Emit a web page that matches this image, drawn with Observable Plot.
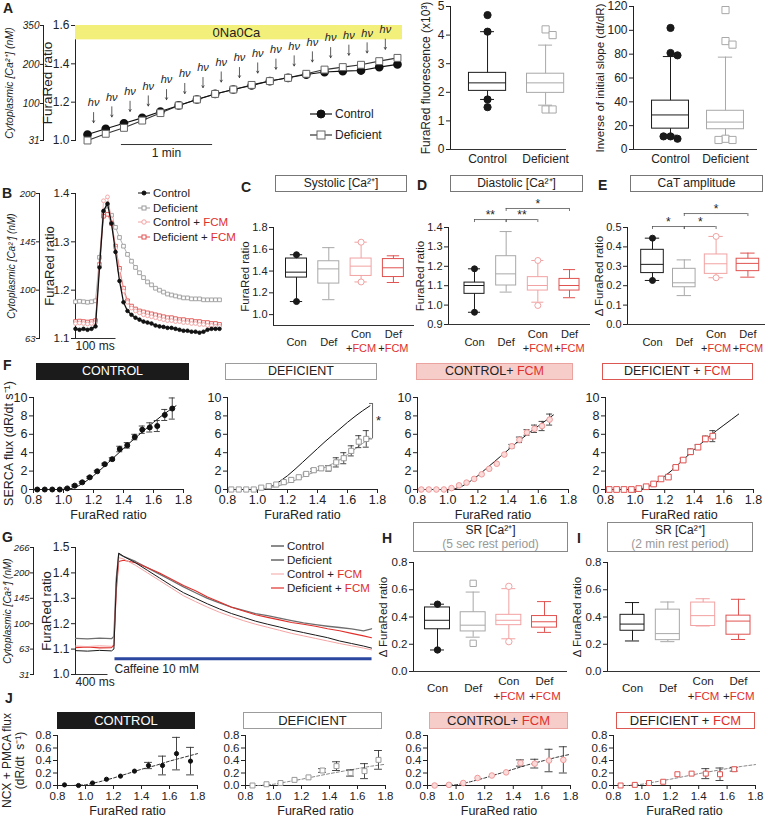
<!DOCTYPE html>
<html>
<head>
<meta charset="utf-8">
<script src="https://cdn.jsdelivr.net/npm/d3@7"></script>
<script src="https://cdn.jsdelivr.net/npm/@observablehq/plot@0.6"></script>
<style>
  html, body { margin: 0; padding: 0; background: #fff; }
  #root { position: relative; width: 767px; height: 835px; overflow: hidden; font-family: "Liberation Sans", Arial, Helvetica, sans-serif; color: #222; }
  .letter { position: absolute; font-weight: bold; font-size: 14px; line-height: 14px; }
  .hdr { position: absolute; box-sizing: border-box; text-align: center; white-space: nowrap; }
  .red { color: #e0302c; }
  .gry { color: #999; }
  .leg { position: absolute; display: flex; align-items: center; white-space: nowrap; }
  .leg svg { display: block; margin-right: 3px; overflow: visible; }
</style>
</head>
<body>
<div id="root"></div>
<script>
// ======================= DATA =======================
// ---- Panel A : time course during 0Na0Ca (time in s) ----
const aTime = [0,12,24,36,48,60,72,84,96,108,120,132,144,156,168,180,192,204];
const aControl = [1.031,1.061,1.090,1.118,1.151,1.183,1.214,1.243,1.266,1.287,1.310,1.327,1.344,1.357,1.362,1.365,1.383,1.397];
const aControlErr = [0,0,0,0,0,0,0,0,0.004,0,0,0.004,0.006,0.008,0.010,0.012,0.010,0.012];
const aDeficient = [1.000,1.035,1.066,1.104,1.143,1.183,1.214,1.243,1.266,1.290,1.310,1.327,1.348,1.370,1.383,1.395,1.414,1.431];
const aDeficientErr = [0,0,0,0,0,0,0,0,0,0,0,0,0,0,0.005,0.005,0.006,0.008];
const aBand = [1.525, 1.6];
const aMinuteBar = [22, 82];
const aCaTicks = [31, 100, 200, 350];
const aCaAt = [1.0, 1.193, 1.397, 1.6];
// ---- Panel A : boxplots ----
const groupsA = ["Control", "Deficient"];
const fluoQ1 = [2.05, 1.98], fluoMed = [2.33, 2.33], fluoQ3 = [2.68, 2.65], fluoLo = [1.75, 1.55], fluoHi = [4.12, 3.65];
const fluoOut = [[0,4.70],[0,4.12],[0,1.75],[0,1.48],[1,4.20],[1,4.00],[1,1.40],[1,1.40]];
const slopeQ1 = [17.5, 17], slopeMed = [29, 23], slopeQ3 = [41, 32.5], slopeLo = [12, 10], slopeHi = [78, 77.5];
const slopeOut = [[0,102],[0,81],[0,79],[0,11],[0,9],[0,11],[1,117],[1,91],[1,88],[1,9],[1,8],[1,8]];
// ---- Panel B : Ca transients (time in ms) ----
const bTime = [0,10,20,30,40,50,60,70,80,90,100,110,120,130,140,150,160,170,180,190,200,210,220,230,240,250,260,270,280,290,300,310,320,330,340,350,360];
const bControl = [1.120,1.118,1.120,1.118,1.120,1.125,1.247,1.364,1.379,1.338,1.279,1.219,1.175,1.157,1.149,1.143,1.139,1.135,1.133,1.131,1.127,1.125,1.124,1.122,1.122,1.120,1.118,1.116,1.116,1.114,1.114,1.112,1.114,1.118,1.120,1.120,1.120];
const bDeficient = [1.176,1.177,1.176,1.175,1.176,1.178,1.268,1.360,1.374,1.355,1.330,1.309,1.291,1.274,1.260,1.247,1.236,1.226,1.217,1.211,1.204,1.200,1.196,1.192,1.190,1.188,1.186,1.184,1.184,1.182,1.182,1.182,1.180,1.180,1.180,1.180,1.180];
const bConFCM = [1.131,1.132,1.131,1.130,1.131,1.133,1.253,1.385,1.393,1.347,1.287,1.240,1.198,1.175,1.163,1.157,1.153,1.149,1.147,1.145,1.143,1.141,1.139,1.137,1.137,1.135,1.135,1.133,1.133,1.131,1.131,1.129,1.129,1.127,1.127,1.125,1.125];
const bDefFCM = [1.135,1.136,1.135,1.134,1.135,1.137,1.253,1.353,1.357,1.338,1.291,1.245,1.204,1.178,1.167,1.161,1.157,1.155,1.153,1.151,1.149,1.147,1.145,1.143,1.143,1.141,1.139,1.139,1.137,1.137,1.135,1.135,1.133,1.133,1.131,1.131,1.129];
const bCaTicks = [63, 100, 145, 200];
const bCaAt = [1.1, 1.2, 1.3, 1.4];
// ---- Panels C, D, E, H, I : boxplots ----
const cats4 = ["Con", "Def", "Con +FCM", "Def +FCM"];
const sysQ1 = [1.34,1.285,1.355,1.345], sysMed = [1.39,1.42,1.445,1.43], sysQ3 = [1.515,1.49,1.515,1.51], sysLo = [1.12,1.137,1.30,1.295], sysHi = [1.55,1.615,1.665,1.54];
const sysOut = [[0,1.55],[0,1.12],[2,1.665],[2,1.30]];
const diaQ1 = [1.058,1.101,1.075,1.075], diaMed = [1.101,1.161,1.101,1.101], diaQ3 = [1.116,1.252,1.144,1.135], diaLo = [0.963,1.067,1.015,1.038], diaHi = [1.187,1.379,1.23,1.183];
const diaOut = [[0,1.187],[0,0.963],[2,1.23],[2,0.998]];
const diaSig = [[0,1,1.441,"**"],[1,2,1.441,"**"],[1,3,1.498,"*"]];
const ampQ1 = [0.265,0.192,0.261,0.275], ampMed = [0.31,0.215,0.313,0.315], ampQ3 = [0.385,0.287,0.361,0.339], ampLo = [0.227,0.149,0.241,0.244], ampHi = [0.445,0.333,0.454,0.368];
const ampOut = [[0,0.445],[0,0.227],[2,0.454],[2,0.241]];
const ampSig = [[0,1,0.505,"*"],[1,2,0.505,"*"],[1,3,0.572,"*"]];
const sr5Q1 = [0.31,0.294,0.34,0.322], sr5Med = [0.376,0.34,0.376,0.365], sr5Q3 = [0.47,0.435,0.416,0.407], sr5Lo = [0.158,0.252,0.24,0.287], sr5Hi = [0.494,0.583,0.608,0.513];
const sr5Out = [[0,0.494],[0,0.158],[1,0.647],[1,0.207],[2,0.625],[2,0.219]];
const sr2Q1 = [0.299,0.23,0.334,0.27], sr2Med = [0.348,0.278,0.41,0.37], sr2Q3 = [0.416,0.454,0.506,0.41], sr2Lo = [0.224,0.219,0.334,0.235], sr2Hi = [0.506,0.51,0.534,0.53];
const sr2Out = [];
// ---- Panel F : SERCA flux vs FuraRed ratio ----
const fX = [0.825,0.875,0.925,0.975,1.025,1.075,1.125,1.175,1.225,1.275,1.325,1.375,1.425,1.475,1.525,1.575,1.625,1.675,1.725];
const fControl = [0,0,0,0,0.12,0.42,0.78,1.32,1.98,2.75,3.3,4.4,4.8,5.7,6.5,6.75,6.9,8.1,8.8];
const fControlErr = [0,0,0,0,0.05,0.08,0.1,0.1,0.1,0.1,0.15,0.3,0.3,0.3,0.4,0.5,0.6,0.6,1.15];
const fDeficient = [0,0,0,0,0.2,0.36,0.54,0.8,1.04,1.33,1.69,2.1,2.3,2.3,2.95,3.4,4.2,5.2,5.5];
const fDeficientErr = [0,0,0,0,0,0,0,0,0,0,0.1,0.15,0.2,0.3,0.5,0.6,0.55,0.65,0.9];
const fConFCM = [0,0,0,0,0.15,0.45,0.75,1.15,1.65,2.25,2.8,3.8,4.7,5.4,6.2,6.6,6.9,7.6];
const fConFCMErr = [0,0,0,0,0,0,0,0,0,0,0,0,0.2,0.3,0.3,0.4,0.5,0.6];
const fDefFCM = [0,0,0,0,0.1,0.3,0.6,1.15,1.35,2.4,3.2,4.1,4.6,5.5,5.8];
const fDefFCMErr = [0,0,0,0,0,0,0,0,0.1,0.15,0.2,0.3,0.25,0.3,0.6];
const fFitX = [1.0,1.05,1.1,1.15,1.2,1.25,1.3,1.35,1.4,1.45,1.5,1.55,1.6,1.65,1.7,1.75];
const fControlFit = [0,0.1,0.4,0.9,1.5,2.2,2.95,3.7,4.45,5.2,5.9,6.6,7.3,7.95,8.55,9.1];
const fDeficientFit = [0,0.1,0.25,0.45,0.7,1.0,1.35,1.7,2.05,2.4,2.8,3.25,3.8,4.4,5.0,5.6];
const fConFCMFit = [0,0.1,0.4,0.9,1.5,2.2,2.9,3.6,4.3,5.0,5.65,6.3,6.9,7.5,8.1];
const fDefFCMFit = [0,0.12,0.4,0.85,1.45,2.1,2.85,3.6,4.35,5.05,5.75,6.4,7.0,7.6,8.2];
const fSig = [1.767, 5.5, 9.35];
// ---- Panel G : caffeine-induced transients (time in ms) ----
const gTime = [0,150,300,450,480,510,540,600,750,900,1050,1200,1350,1500,1650,1800,1950,2100,2250,2400,2550,2700,2850,3000,3150,3300,3450,3600,3700];
const gControl = [1.142,1.140,1.143,1.141,1.150,1.380,1.475,1.465,1.445,1.420,1.395,1.370,1.345,1.322,1.300,1.282,1.265,1.252,1.240,1.232,1.222,1.212,1.203,1.196,1.190,1.185,1.180,1.172,1.180];
const gDeficient = [1.094,1.092,1.095,1.093,1.100,1.360,1.478,1.465,1.440,1.410,1.380,1.350,1.322,1.300,1.278,1.258,1.240,1.225,1.210,1.198,1.187,1.175,1.165,1.155,1.145,1.132,1.122,1.112,1.104];
const gConFCM = [1.112,1.110,1.113,1.111,1.120,1.350,1.460,1.455,1.430,1.400,1.370,1.340,1.310,1.287,1.265,1.245,1.228,1.212,1.198,1.186,1.174,1.162,1.152,1.142,1.132,1.122,1.113,1.104,1.097];
const gDefFCM = [1.106,1.108,1.105,1.106,1.115,1.330,1.445,1.450,1.440,1.420,1.400,1.375,1.350,1.330,1.305,1.285,1.265,1.250,1.235,1.225,1.215,1.205,1.198,1.190,1.180,1.172,1.162,1.152,1.145];
const gCaffeine = [487, 3700, 1.0625];
const gCaTicks = [31, 63, 100, 145, 200, 266];
const gCaAt = [1.0, 1.1, 1.2, 1.3, 1.4, 1.5];
// ---- Panel J : NCX + PMCA flux ----
const jX = [0.85,0.95,1.05,1.15,1.25,1.35,1.45,1.55,1.65,1.75];
const jControl = [0.01,0.0,0.04,0.10,0.15,0.23,0.32,0.32,0.51,0.39];
const jControlErr = [0,0,0,0,0,0,0.05,0.15,0.26,0.22];
const jDeficient = [0.0,0.02,0.04,0.09,0.13,0.24,0.31,0.20,0.23,0.41];
const jDeficientErr = [0,0,0,0,0,0.03,0.07,0.05,0.12,0.15];
const jConFCM = [0.0,0.01,0.04,0.12,0.16,0.21,0.36,0.35,0.40,0.41];
const jConFCMErr = [0,0,0,0,0,0,0.05,0.07,0.18,0.21];
const jDefFCM = [0.0,0.01,0.04,0.06,0.18,0.19,0.19,0.18,0.26];
const jDefFCMErr = [0,0,0,0,0,0,0.08,0.1,0.03];
const jFitX = [0.85,0.9,1.0,1.1,1.2,1.3,1.4,1.5,1.6,1.7,1.8];
const jControlFit = [0,0,0.01,0.06,0.12,0.19,0.26,0.32,0.39,0.45,0.51];
const jDeficientFit = [0,0,0.02,0.06,0.10,0.145,0.19,0.23,0.27,0.31,0.34];
const jConFCMFit = [0,0,0.01,0.06,0.12,0.19,0.26,0.33,0.39,0.45,0.50];
const jDefFCMFit = [0,0,0.02,0.06,0.10,0.145,0.19,0.23,0.27,0.305,0.335];

// ======================= HELPERS =======================
const FONT = '"Liberation Sans", Arial, Helvetica, sans-serif';
const RED = "#e0302c";
const COL4 = ["#1a1a1a", "#a8a8a8", "#f2a2a2", "#e05250"];
const SYM4 = ["filled", "square", "circle", "square"];
const root = document.getElementById("root");

function put(el, left, top) {
  el.style.position = "absolute";
  el.style.left = left + "px";
  el.style.top = top + "px";
  root.appendChild(el);
  return el;
}
function mkPlot(g, opts) {
  const {L, R, T, B, ml = 40, mr = 4, mt = 4, mb = 20, fs = 11, italic = false} = g;
  const svg = Plot.plot({
    width: R - L + ml + mr, height: B - T + mt + mb,
    marginLeft: ml, marginRight: mr, marginTop: mt, marginBottom: mb,
    style: {background: "transparent", overflow: "visible", fontFamily: FONT, fontSize: fs + "px", color: "#222", fontStyle: italic ? "italic" : "normal"},
    ...opts
  });
  return put(svg, L - ml, T - mt);
}
function yAx(domain, ticks, fmt, extra = {}) {
  return {domain, ticks, tickFormat: fmt, tickSize: 4, tickPadding: 2, line: true, label: null, ...extra};
}
function ylabel(text, dx, fs, extra = {}) {
  return Plot.text([text], {frameAnchor: "left", rotate: -90, dx, text: d => d, fontSize: fs, textAnchor: "middle", lineAnchor: "middle", ...extra});
}
function letter(ch, left, top) {
  const d = document.createElement("div");
  d.className = "letter"; d.textContent = ch;
  put(d, left, top);
}
function hdr(left, top, w, h, html, o = {}) {
  const d = document.createElement("div");
  d.className = "hdr";
  Object.assign(d.style, {width: w + "px", height: h + "px", background: o.bg || "#fff", border: "1px solid " + (o.border || "#888"),
    color: o.color || "#222", fontSize: (o.fs || 12) + "px", lineHeight: (o.lh || (h - 2)) + "px"});
  d.innerHTML = html;
  put(d, left, top);
}
function glyph(w, line, marker) {
  let m = "";
  const cx = w / 2, cy = 7;
  if (marker && marker.type === "circle") m = `<circle cx="${cx}" cy="${cy}" r="${marker.r}" fill="${marker.fill}" stroke="${marker.stroke}" stroke-width="1"/>`;
  if (marker && marker.type === "square") m = `<rect x="${cx - marker.s / 2}" y="${cy - marker.s / 2}" width="${marker.s}" height="${marker.s}" fill="${marker.fill}" stroke="${marker.stroke}" stroke-width="1"/>`;
  return `<svg width="${w}" height="14"><line x1="0" y1="7" x2="${w}" y2="7" stroke="${line.stroke}" stroke-width="${line.w}"/>${m}</svg>`;
}
function legendRow(left, cy, g, html, fs) {
  const d = document.createElement("div");
  d.className = "leg";
  Object.assign(d.style, {height: "14px", fontSize: fs + "px"});
  d.innerHTML = g + `<span>${html}</span>`;
  put(d, left, cy - 7);
}
function spreadOut(out, pxu, step) {
  const placed = [];
  for (const [c, v] of out) {
    const n = placed.filter(p => p.c === c && Math.abs(p.v - v) * pxu < 6).length;
    const off = n === 0 ? 0 : (n % 2 ? 1 : -1) * Math.ceil(n / 2) * 7;
    placed.push({c, v, x: c + off / step});
  }
  return placed;
}
function boxPanel(g, st, o) {
  const idx = d3.range(st.q1.length);
  const col = i => o.colors[i];
  const marks = [
    Plot.ruleY([o.y[0]], {stroke: "#333"}),
    Plot.ruleX(idx, {x: i => i, y1: i => st.lo[i], y2: i => st.hi[i], stroke: col}),
    Plot.ruleY(idx, {y: i => st.hi[i], x1: i => i - o.cap, x2: i => i + o.cap, stroke: col}),
    Plot.ruleY(idx, {y: i => st.lo[i], x1: i => i - o.cap, x2: i => i + o.cap, stroke: col}),
    Plot.rect(idx, {x1: i => i - o.hw, x2: i => i + o.hw, y1: i => st.q1[i], y2: i => st.q3[i], fill: "white", stroke: col}),
    Plot.ruleY(idx, {y: i => st.med[i], x1: i => i - o.hw, x2: i => i + o.hw, stroke: col})
  ];
  const outs = spreadOut(st.out, o.pxu, o.step);
  for (const kind of ["filled", "circle", "square"]) {
    const list = outs.filter(p => o.sym[p.c] === kind);
    if (!list.length) continue;
    marks.push(Plot.dot(list, {x: "x", y: "v", r: kind === "square" ? o.r * 1.12 : o.r,
      symbol: kind === "square" ? "square" : "circle",
      fill: kind === "filled" ? (p => o.colors[p.c]) : "white", stroke: p => o.colors[p.c], strokeWidth: 1}));
  }
  if (o.label) marks.push(ylabel(o.label, o.labelDx, o.labelFs));
  if (o.extra) marks.push(...o.extra);
  return mkPlot(g, {color: {type: "identity"}, x: {domain: o.x, axis: null}, y: yAx(o.y, o.ticks, o.fmt), marks});
}
function catLabels4(y0, d1, d2, d3, fs) {
  const top = cats4.map(c => c.split(" ")[0]);
  return [
    Plot.text([0, 1], {x: i => i, y: () => y0, dy: d1, text: i => top[i], fontSize: fs}),
    Plot.text([2, 3], {x: i => i, y: () => y0, dy: d2, text: i => top[i], fontSize: fs}),
    Plot.text([2, 3], {x: i => i, y: () => y0, dy: d3, text: () => "+", textAnchor: "end", dx: -8.7, fontSize: fs}),
    Plot.text([2, 3], {x: i => i, y: () => y0, dy: d3, text: () => "FCM", textAnchor: "start", dx: -8.7, fontSize: fs, fill: RED})
  ];
}
function sigMarks(list, pxu) {
  const t = 3 / pxu;
  return [
    Plot.ruleY(list, {y: d => d[2], x1: d => d[0], x2: d => d[1], stroke: "#555", strokeWidth: 0.8}),
    Plot.ruleX(list, {x: d => d[0], y1: d => d[2], y2: d => d[2] - t, stroke: "#555", strokeWidth: 0.8}),
    Plot.ruleX(list, {x: d => d[1], y1: d => d[2], y2: d => d[2] - t, stroke: "#555", strokeWidth: 0.8}),
    Plot.text(list, {x: d => (d[0] + d[1]) / 2, y: d => d[2], dy: -4, text: d => d[3], fontSize: 12})
  ];
}
function fluxPlot(g, o) {
  const marks = [];
  for (const f of o.fits) {
    const pts = f.x.map((x, i) => ({x, y: f.y[i]}));
    marks.push(Plot.line(pts, {x: "x", y: "y", stroke: f.stroke, strokeWidth: f.w || 1, strokeDasharray: f.dash}));
  }
  const pts = o.xs.map((x, i) => ({x, y: o.ys[i], e: o.es[i]}));
  const eb = pts.filter(p => p.e > 0);
  marks.push(
    Plot.ruleX(eb, {x: "x", y1: p => p.y - p.e, y2: p => p.y + p.e, stroke: "#333", strokeWidth: 0.9}),
    Plot.ruleY(eb, {y: p => p.y + p.e, x1: p => p.x - o.cw, x2: p => p.x + o.cw, stroke: "#333", strokeWidth: 0.9}),
    Plot.ruleY(eb, {y: p => p.y - p.e, x1: p => p.x - o.cw, x2: p => p.x + o.cw, stroke: "#333", strokeWidth: 0.9}),
    Plot.dot(pts, {x: "x", y: "y", r: o.m.r, symbol: o.m.symbol, fill: o.m.fill, stroke: o.m.stroke, strokeWidth: 1}),
    Plot.text(["FuraRed ratio"], {frameAnchor: "bottom", dy: o.xlDy, text: d => d, fontSize: o.xlFs, lineAnchor: "middle"})
  );
  if (o.extra) marks.push(...o.extra);
  return mkPlot(g, {
    x: {domain: [0.8, 1.8], ticks: [0.8, 1.0, 1.2, 1.4, 1.6, 1.8], tickFormat: ".1f", tickSize: 4, tickPadding: 2, line: true, label: null},
    y: yAx(o.y, o.ticks, o.fmt), marks
  });
}

// ======================= PANEL A =======================
letter("A", 3, 1);
{
  const idx = d3.range(aTime.length);
  const arrowIdx = d3.range(17);
  const top = arrowIdx.map(i => Math.max(aControl[i], aDeficient[i]));
  const errC = idx.filter(i => aControlErr[i] > 0);
  const errD = idx.filter(i => aDeficientErr[i] > 0);
  mkPlot({L: 75, R: 402, T: 25, B: 140, ml: 40, mr: 2, mt: 6, mb: 22, fs: 12}, {
    x: {domain: [-7.9, 207.3], axis: null},
    y: yAx([1.0, 1.6], [1.0, 1.2, 1.4, 1.6], ".1f"),
    marks: [
      Plot.rect([aBand], {x1: -7.9, x2: 207.3, y1: d => d[0], y2: d => d[1], fill: "#f3ef7b"}),
      Plot.text(["0Na0Ca"], {x: () => 98, y: () => (aBand[0] + aBand[1]) / 2, text: d => d, fontSize: 13}),
      Plot.arrow(arrowIdx, {x1: i => aTime[i] + 4, x2: i => aTime[i] + 4, y1: i => top[i] + 0.115, y2: i => top[i] + 0.062, stroke: "#333", strokeWidth: 0.8, headLength: 4}),
      Plot.text(arrowIdx, {x: i => aTime[i] + 4, y: i => top[i] + 0.165, text: () => "hν", fontStyle: "italic", fontSize: 11}),
      Plot.line(idx, {x: i => aTime[i], y: i => aDeficient[i], stroke: "#333", strokeWidth: 1.1}),
      Plot.line(idx, {x: i => aTime[i], y: i => aControl[i], stroke: "#111", strokeWidth: 1.1}),
      Plot.ruleX(errC, {x: i => aTime[i], y1: i => aControl[i] - aControlErr[i], y2: i => aControl[i] + aControlErr[i], stroke: "#111"}),
      Plot.ruleY(errC, {y: i => aControl[i] - aControlErr[i], x1: i => aTime[i] - 1.5, x2: i => aTime[i] + 1.5, stroke: "#111"}),
      Plot.ruleX(errD, {x: i => aTime[i], y1: i => aDeficient[i] - aDeficientErr[i], y2: i => aDeficient[i] + aDeficientErr[i], stroke: "#555"}),
      Plot.dot(idx, {x: i => aTime[i], y: i => aControl[i], r: 3.6, fill: "#111", stroke: "#111"}),
      Plot.dot(idx, {x: i => aTime[i], y: i => aDeficient[i], r: 3.9, symbol: "square", fill: "white", stroke: "#666", strokeWidth: 1}),
      Plot.link([aMinuteBar], {x1: d => d[0], x2: d => d[1], y1: () => 0.979, y2: () => 0.979, stroke: "#333"}),
      Plot.text(["1 min"], {x: () => (aMinuteBar[0] + aMinuteBar[1]) / 2, y: () => 0.979, dy: 9, text: d => d, fontSize: 12}),
      ylabel("FuraRed ratio", -28, 13.5)
    ]
  });
  mkPlot({L: 43, R: 44, T: 25, B: 140, ml: 34, mr: 0, mt: 6, mb: 6, fs: 10, italic: true}, {
    y: yAx([1.0, 1.6], aCaAt, d => String(aCaTicks[aCaAt.indexOf(d)]), {tickSize: 3, tickPadding: 1}),
    marks: [Plot.ruleY([1.0, 1.6], {strokeOpacity: 0}), ylabel("Cytoplasmic [Ca²⁺] (nM)", -34, 10.5, {fontStyle: "italic"})]
  });
  legendRow(310, 114, glyph(22, {stroke: "#111", w: 1.2}, {type: "circle", r: 4, fill: "#111", stroke: "#111"}), "Control", 12);
  legendRow(310, 135, glyph(22, {stroke: "#333", w: 1.2}, {type: "square", s: 8, fill: "#fff", stroke: "#666"}), "Deficient", 12);
}
// boxplots in A
{
  const colA = ["#1a1a1a", "#a8a8a8"], symA = ["filled", "square"];
  const lab = [Plot.text([0, 1], {x: i => i, y: () => 0, dy: 10, text: i => groupsA[i], fontSize: 12})];
  boxPanel({L: 450, R: 566, T: 6, B: 149, ml: 34, mr: 2, mt: 6, mb: 16, fs: 12},
    {q1: fluoQ1, med: fluoMed, q3: fluoQ3, lo: fluoLo, hi: fluoHi, out: fluoOut},
    {x: [-0.638, 1.36], y: [0, 5], ticks: [0, 1, 2, 3, 4, 5], fmt: "d", hw: 0.32, cap: 0.12, step: 58, pxu: 28.6, r: 3.6,
     colors: colA, sym: symA, label: "FuraRed fluorescence (x10³)", labelDx: -24, labelFs: 12, extra: lab});
  boxPanel({L: 633, R: 757, T: 6, B: 149, ml: 40, mr: 2, mt: 6, mb: 16, fs: 12},
    {q1: slopeQ1, med: slopeMed, q3: slopeQ3, lo: slopeLo, hi: slopeHi, out: slopeOut},
    {x: [-0.673, 1.582], y: [0, 120], ticks: [0, 20, 40, 60, 80, 100, 120], fmt: "d", hw: 0.336, cap: 0.13, step: 55, pxu: 1.19, r: 3.6,
     colors: colA, sym: symA, label: "Inverse of initial slope (dt/dR)", labelDx: -33, labelFs: 11.5, extra: lab});
}

// ======================= PANEL B =======================
letter("B", 2, 186);
{
  const idx = d3.range(bTime.length);
  const series = [
    {v: bDeficient, line: "#9a9a9a", sym: "square", r: 2.1, fill: "white", stroke: "#9a9a9a"},
    {v: bDefFCM, line: "#e05250", sym: "square", r: 2.1, fill: "white", stroke: "#e05250"},
    {v: bConFCM, line: "#f2a2a2", sym: "circle", r: 1.9, fill: "white", stroke: "#f2a2a2"},
    {v: bControl, line: "#111", sym: "circle", r: 1.8, fill: "#111", stroke: "#111"}
  ];
  const marks = [];
  for (const s of series) {
    marks.push(Plot.line(idx, {x: i => bTime[i], y: i => s.v[i], stroke: s.line, strokeWidth: s.line === "#111" ? 1.3 : 0.8}));
    marks.push(Plot.dot(idx, {x: i => bTime[i], y: i => s.v[i], r: s.r, symbol: s.sym, fill: s.fill, stroke: s.stroke, strokeWidth: 0.9}));
  }
  marks.push(
    Plot.link([[0, 100]], {x1: d => d[0], x2: d => d[1], y1: () => 1.1, y2: () => 1.1, stroke: "#333"}),
    Plot.text(["100 ms"], {x: () => 0, y: () => 1.1, dy: 8, textAnchor: "start", text: d => d, fontSize: 12}),
    ylabel("FuraRed ratio", -26, 13)
  );
  mkPlot({L: 75, R: 222, T: 193, B: 338, ml: 40, mr: 2, mt: 4, mb: 14, fs: 11.5}, {
    x: {domain: [0, 367.5], axis: null},
    y: yAx([1.1, 1.4], [1.1, 1.2, 1.3, 1.4], ".1f"),
    marks
  });
  mkPlot({L: 39, R: 40, T: 193, B: 338, ml: 34, mr: 0, mt: 4, mb: 4, fs: 9.5, italic: true}, {
    y: yAx([1.1, 1.4], bCaAt, d => String(bCaTicks[bCaAt.indexOf(d)]), {tickSize: 3, tickPadding: 1}),
    marks: [Plot.ruleY([1.1, 1.4], {strokeOpacity: 0}), ylabel("Cytoplasmic [Ca²⁺] (nM)", -28, 10, {fontStyle: "italic"})]
  });
  legendRow(138, 193, glyph(12, {stroke: "#111", w: 1}, {type: "circle", r: 2, fill: "#111", stroke: "#111"}), "Control", 11.5);
  legendRow(138, 208, glyph(12, {stroke: "#9a9a9a", w: 1}, {type: "square", s: 4, fill: "#fff", stroke: "#9a9a9a"}), "Deficient", 11.5);
  legendRow(138, 222, glyph(12, {stroke: "#f2a2a2", w: 1}, {type: "circle", r: 2.2, fill: "#fff", stroke: "#f2a2a2"}), 'Control + <span class="red">FCM</span>', 11.5);
  legendRow(138, 237, glyph(12, {stroke: "#e05250", w: 1}, {type: "square", s: 4, fill: "#fff", stroke: "#e05250"}), 'Deficient + <span class="red">FCM</span>', 11.5);
}

// ======================= PANELS C, D, E =======================
letter("C", 241, 180);
letter("D", 417, 178);
letter("E", 598, 178);
hdr(275, 175, 132, 17, "Systolic [Ca²⁺]", {border: "#777", fs: 12});
hdr(450, 175, 133, 17, "Diastolic [Ca²⁺]", {border: "#777", fs: 12});
hdr(630, 175, 133, 17, "CaT amplitude", {border: "#777", fs: 12});
boxPanel({L: 273, R: 414, T: 227, B: 325, ml: 36, mr: 2, mt: 4, mb: 30, fs: 11},
  {q1: sysQ1, med: sysMed, q3: sysQ3, lo: sysLo, hi: sysHi, out: sysOut},
  {x: [-0.712, 3.653], y: [0.9, 1.8], ticks: [1.0, 1.2, 1.4, 1.6, 1.8], fmt: ".1f", hw: 0.325, cap: 0.19, step: 32.3, pxu: 108.9, r: 3,
   colors: COL4, sym: SYM4, label: "FuraRed ratio", labelDx: -28, labelFs: 11.5, extra: catLabels4(0.9, 17, 9, 23, 11)});
boxPanel({L: 448, R: 590, T: 227, B: 324, ml: 36, mr: 2, mt: 4, mb: 30, fs: 11},
  {q1: diaQ1, med: diaMed, q3: diaQ3, lo: diaLo, hi: diaHi, out: diaOut},
  {x: [-0.821, 3.663], y: [0.9, 1.4], ticks: [0.9, 1.0, 1.1, 1.2, 1.3, 1.4], fmt: ".1f", hw: 0.316, cap: 0.19, step: 31.67, pxu: 194, r: 3,
   colors: COL4, sym: SYM4, label: "FuraRed ratio", labelDx: -28, labelFs: 11.5,
   extra: [...catLabels4(0.9, 17.5, 10, 24, 11), ...sigMarks(diaSig, 194)]});
boxPanel({L: 627, R: 765, T: 227, B: 324, ml: 36, mr: 2, mt: 4, mb: 30, fs: 11},
  {q1: ampQ1, med: ampMed, q3: ampQ3, lo: ampLo, hi: ampHi, out: ampOut},
  {x: [-0.786, 3.553], y: [0, 0.5], ticks: [0, 0.1, 0.2, 0.3, 0.4, 0.5], fmt: ".1f", hw: 0.355, cap: 0.226, step: 31.8, pxu: 194, r: 3,
   colors: COL4, sym: SYM4, label: "Δ FuraRed ratio", labelDx: -28, labelFs: 11.5,
   extra: [...catLabels4(0, 17.5, 10, 24, 11), ...sigMarks(ampSig, 194)]});

// ======================= PANEL F =======================
letter("F", 3, 358);
hdr(36, 363, 153, 17, "CONTROL", {bg: "#1b1b1b", border: "#1b1b1b", color: "#fff", fs: 12.5});
hdr(225, 363, 152, 17, "DEFICIENT", {border: "#9c9c9c", fs: 12.5});
hdr(416, 363, 157, 17, 'CONTROL+ <span class="red">FCM</span>', {bg: "#f7cdca", border: "#eba3a0", fs: 12.5});
hdr(602, 363, 151, 17, 'DEFICIENT + <span class="red">FCM</span>', {border: "#dd5752", fs: 12.5});
{
  const base = {T: 397, B: 489, ml: 30, mr: 4, mt: 6, mb: 34, fs: 12.5};
  const common = {y: [0, 10], ticks: [0, 2, 4, 6, 8, 10], fmt: "d", cw: 0.02, xlDy: 25, xlFs: 12.5};
  fluxPlot({...base, L: 33, R: 183}, {...common, xs: fX, ys: fControl, es: fControlErr,
    fits: [{x: fFitX, y: fControlFit, stroke: "#111"}],
    m: {r: 2.5, symbol: "circle", fill: "#111", stroke: "#111"},
    extra: [ylabel("SERCA flux (dR/dt s⁻¹)", -25, 12.5)]});
  fluxPlot({...base, L: 227, R: 377}, {...common, xs: fX, ys: fDeficient, es: fDeficientErr,
    fits: [{x: fFitX, y: fControlFit, stroke: "#111"}, {x: fFitX, y: fDeficientFit, stroke: "#999"}],
    m: {r: 2.9, symbol: "square", fill: "white", stroke: "#999"},
    extra: [
      Plot.ruleX([fSig], {x: d => d[0], y1: d => d[1], y2: d => d[2], stroke: "#666"}),
      Plot.ruleY([fSig[1], fSig[2]], {y: d => d, x1: () => fSig[0] - 0.02, x2: () => fSig[0], stroke: "#666"}),
      Plot.text(["*"], {x: () => fSig[0] + 0.04, y: () => (fSig[1] + fSig[2]) / 2, text: d => d, fontSize: 13})
    ]});
  fluxPlot({...base, L: 417, R: 568}, {...common, xs: fX.slice(0, fConFCM.length), ys: fConFCM, es: fConFCMErr,
    fits: [{x: fFitX.slice(0, fConFCMFit.length), y: fConFCMFit, stroke: "#111"}],
    m: {r: 2.8, symbol: "circle", fill: "#fbdada", stroke: "#f09a9a"}});
  fluxPlot({...base, L: 605, R: 753}, {...common, xs: fX.slice(0, fDefFCM.length), ys: fDefFCM, es: fDefFCMErr,
    fits: [{x: fFitX.slice(0, fDefFCMFit.length), y: fDefFCMFit, stroke: "#111"}],
    m: {r: 3.2, symbol: "square", fill: "white", stroke: "#e05250"}});
}

// ======================= PANEL G =======================
letter("G", 2, 530);
{
  const idx = d3.range(gTime.length);
  const tr = [
    {v: gControl, stroke: "#6e6e6e", w: 1.3},
    {v: gDefFCM, stroke: "#e0302c", w: 1.1},
    {v: gConFCM, stroke: "#f5a3a3", w: 1},
    {v: gDeficient, stroke: "#1a1a1a", w: 1}
  ];
  mkPlot({L: 75, R: 372, T: 547, B: 674, ml: 40, mr: 2, mt: 4, mb: 20, fs: 12}, {
    x: {domain: [0, 3712], axis: null},
    y: yAx([1.0, 1.5], [1.0, 1.1, 1.2, 1.3, 1.4, 1.5], ".1f"),
    marks: [
      ...tr.map(s => Plot.line(idx, {x: i => gTime[i], y: i => s.v[i], stroke: s.stroke, strokeWidth: s.w})),
      Plot.link([gCaffeine], {x1: d => d[0], x2: d => d[1], y1: d => d[2], y2: d => d[2], stroke: "#2b47a0", strokeWidth: 3}),
      Plot.text(["Caffeine 10 mM"], {x: () => gCaffeine[0], y: () => 1.02, textAnchor: "start", text: d => d, fontSize: 12}),
      Plot.link([[0, 400]], {x1: d => d[0], x2: d => d[1], y1: () => 1.0, y2: () => 1.0, stroke: "#333"}),
      Plot.text(["400 ms"], {x: () => 0, y: () => 1.0, dy: 8, textAnchor: "start", text: d => d, fontSize: 12}),
      ylabel("FuraRed ratio", -29, 13)
    ]
  });
  mkPlot({L: 33, R: 34, T: 547, B: 674, ml: 30, mr: 0, mt: 4, mb: 4, fs: 9.5, italic: true}, {
    y: yAx([1.0, 1.5], gCaAt, d => String(gCaTicks[gCaAt.indexOf(d)]), {tickSize: 3, tickPadding: 1}),
    marks: [Plot.ruleY([1.0, 1.5], {strokeOpacity: 0}), ylabel("Cytoplasmic [Ca²⁺] (nM)", -26, 10, {fontStyle: "italic"})]
  });
  legendRow(271, 546, glyph(13, {stroke: "#6e6e6e", w: 1.6}), "Control", 11.5);
  legendRow(271, 560, glyph(13, {stroke: "#1a1a1a", w: 1}), "Deficient", 11.5);
  legendRow(271, 574, glyph(13, {stroke: "#f5a3a3", w: 1}), 'Control + <span class="red">FCM</span>', 11.5);
  legendRow(271, 588, glyph(13, {stroke: "#e0302c", w: 1.2}), 'Deficient + <span class="red">FCM</span>', 11.5);
}

// ======================= PANELS H, I =======================
letter("H", 382, 531);
letter("I", 577, 531);
hdr(413, 522, 155, 30, 'SR [Ca²⁺]<br><span class="gry">(5 sec rest period)</span>', {border: "#888", fs: 12, lh: 14});
hdr(607, 522, 146, 30, 'SR [Ca²⁺]<br><span class="gry">(2 min rest period)</span>', {border: "#888", fs: 12, lh: 14});
boxPanel({L: 413, R: 567, T: 562, B: 671, ml: 36, mr: 2, mt: 4, mb: 30, fs: 11.5},
  {q1: sr5Q1, med: sr5Med, q3: sr5Q3, lo: sr5Lo, hi: sr5Hi, out: sr5Out},
  {x: [-0.673, 3.645], y: [0, 0.8], ticks: [0, 0.2, 0.4, 0.6, 0.8], fmt: ".1f", hw: 0.35, cap: 0.196, step: 35.67, pxu: 136.25, r: 3.2,
   colors: COL4, sym: SYM4, label: "Δ FuraRed ratio", labelDx: -30, labelFs: 11.5, extra: catLabels4(0, 17, 10, 25, 11.5)});
boxPanel({L: 607, R: 760, T: 562, B: 671, ml: 36, mr: 2, mt: 4, mb: 30, fs: 11.5},
  {q1: sr2Q1, med: sr2Med, q3: sr2Q3, lo: sr2Lo, hi: sr2Hi, out: sr2Out},
  {x: [-0.708, 3.623], y: [0, 0.8], ticks: [0, 0.2, 0.4, 0.6, 0.8], fmt: ".1f", hw: 0.34, cap: 0.2, step: 35.33, pxu: 136.25, r: 3.2,
   colors: COL4, sym: SYM4, label: "Δ FuraRed ratio", labelDx: -30, labelFs: 11.5, extra: catLabels4(0, 17, 10, 25, 11.5)});

// ======================= PANEL J =======================
letter("J", 5, 691);
hdr(57, 712, 138, 17, "CONTROL", {bg: "#1b1b1b", border: "#1b1b1b", color: "#fff", fs: 13});
hdr(243, 712, 139, 17, "DEFICIENT", {border: "#9c9c9c", fs: 13});
hdr(429, 712, 139, 17, 'CONTROL+ <span class="red">FCM</span>', {bg: "#f7cdca", border: "#eba3a0", fs: 13});
hdr(616, 712, 139, 17, 'DEFICIENT + <span class="red">FCM</span>', {border: "#dd5752", fs: 13});
{
  const base = {T: 735, B: 785, ml: 30, mr: 4, mt: 4, mb: 34, fs: 11.5};
  const common = {y: [0, 0.8], ticks: [0, 0.2, 0.4, 0.6, 0.8], fmt: ".1f", cw: 0.028, xlDy: 25, xlFs: 12.5};
  fluxPlot({...base, L: 57, R: 197}, {...common, xs: jX, ys: jControl, es: jControlErr,
    fits: [{x: jFitX, y: jControlFit, stroke: "#333", dash: "3,2"}],
    m: {r: 2.1, symbol: "circle", fill: "#111", stroke: "#111"},
    extra: [ylabel("NCX + PMCA flux", -50, 12), ylabel("(dR/dt  s⁻¹)", -37, 12)]});
  fluxPlot({...base, L: 245, R: 385}, {...common, xs: jX, ys: jDeficient, es: jDeficientErr,
    fits: [{x: jFitX, y: jDeficientFit, stroke: "#888", dash: "3,2"}],
    m: {r: 2.8, symbol: "square", fill: "white", stroke: "#999"}});
  fluxPlot({...base, L: 427, R: 570}, {...common, xs: jX, ys: jConFCM, es: jConFCMErr,
    fits: [{x: jFitX, y: jConFCMFit, stroke: "#333", dash: "3,2"}],
    m: {r: 2.8, symbol: "circle", fill: "#fbdada", stroke: "#f09a9a"}});
  fluxPlot({...base, L: 613, R: 755}, {...common, xs: jX.slice(0, jDefFCM.length), ys: jDefFCM, es: jDefFCMErr,
    fits: [{x: jFitX, y: jDefFCMFit, stroke: "#888", dash: "3,2"}],
    m: {r: 2.8, symbol: "square", fill: "white", stroke: "#e05250"}});
}
</script>
</body>
</html>
